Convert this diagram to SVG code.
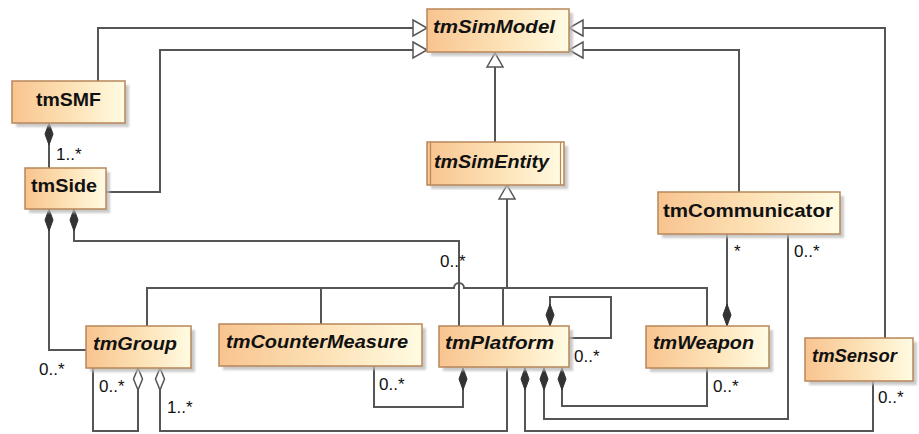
<svg xmlns="http://www.w3.org/2000/svg" width="919" height="434" viewBox="0 0 919 434">
  <style>
    .box { fill: url(#nodeFill); stroke: #b8865a; stroke-width: 1.5; }
    .shadow { fill: #b9b9b9; opacity: 0.75; }
    .name { font-family: "Liberation Sans", Arial, sans-serif; font-size: 18px; font-weight: bold; fill: #111; }
    .it { font-style: italic; }
    .conn { fill: none; stroke: #555; stroke-width: 2; }
    .mult { font-family: "Liberation Sans", Arial, sans-serif; font-size: 17px; fill: #111; }
  </style>
  <defs>
    <linearGradient id="nodeFill" x1="0" y1="0" x2="1" y2="0">
      <stop offset="0" stop-color="#f8c48f"/>
      <stop offset="0.55" stop-color="#fde3b8"/>
      <stop offset="1" stop-color="#fffbe2"/>
    </linearGradient>
    <filter id="soft" x="-10%" y="-10%" width="120%" height="130%">
      <feGaussianBlur stdDeviation="1.2"/>
    </filter>
    <!-- generalization: hollow triangle -->
    <marker id="gen" markerUnits="userSpaceOnUse" markerWidth="20" markerHeight="20" viewBox="-2 -10 18 20" refX="14" refY="0" orient="auto">
      <path d="M0,-8 L14,0 L0,8 Z" fill="#fff" stroke="#555" stroke-width="1.5"/>
    </marker>
    <!-- composition: filled diamond -->
    <marker id="comp" markerUnits="userSpaceOnUse" markerWidth="26" markerHeight="12" viewBox="-1 -6 24 12" refX="0" refY="0" orient="auto">
      <path d="M0,0 L11,-4 L22,0 L11,4 Z" fill="#333" stroke="#333" stroke-width="1"/>
    </marker>
    <!-- aggregation: hollow diamond -->
    <marker id="agg" markerUnits="userSpaceOnUse" markerWidth="26" markerHeight="12" viewBox="-1 -6 24 12" refX="0" refY="0" orient="auto">
      <path d="M0,0 L11,-4.5 L22,0 L11,4.5 Z" fill="#fff" stroke="#555" stroke-width="1.5"/>
    </marker>
  </defs>

  <rect width="919" height="434" fill="#fff"/>

  <!-- connectors -->
  <g id="connectors">
    <!-- generalizations to tmSimModel -->
    <path class="conn" d="M98,81 V28 H427" marker-end="url(#gen)"/>
    <path class="conn" d="M106,192 H160 V50 H427" marker-end="url(#gen)"/>
    <path class="conn" d="M495,142 V53" marker-end="url(#gen)"/>
    <path class="conn" d="M739,192 V50 H569" marker-end="url(#gen)"/>
    <path class="conn" d="M885,338 V28 H569" marker-end="url(#gen)"/>
    <!-- generalization tree to tmSimEntity -->
    <path class="conn" d="M507,288 V185" marker-end="url(#gen)"/>
    <path class="conn" d="M147,326 V288 H454 A5,5 0 0 1 464,288 H707 V326"/>
    <path class="conn" d="M321,324 V288"/>
    <path class="conn" d="M503,326 V288"/>

    <!-- compositions and aggregations -->
    <path class="conn" d="M49,123 V168" marker-start="url(#comp)"/>
    <path class="conn" d="M49,209 V350 H86" marker-start="url(#comp)"/>
    <path class="conn" d="M74,209 V241 H459 V326" marker-start="url(#comp)"/>
    <path class="conn" d="M138,368 V431 H93 V368" marker-start="url(#agg)"/>
    <path class="conn" d="M160,368 V431 H507 V368" marker-start="url(#agg)"/>
    <path class="conn" d="M463,368 V407 H374 V366" marker-start="url(#comp)"/>
    <path class="conn" d="M550,326 V297 H611 V338 H569" marker-start="url(#comp)"/>
    <path class="conn" d="M525,368 V431 H873 V381" marker-start="url(#comp)"/>
    <path class="conn" d="M544,368 V419 H788 V234" marker-start="url(#comp)"/>
    <path class="conn" d="M562,368 V406 H707 V368" marker-start="url(#comp)"/>
    <path class="conn" d="M727,326 V234" marker-start="url(#comp)"/>

    <!-- multiplicities -->
    <text class="mult" x="56" y="160">1..*</text>
    <text class="mult" x="39" y="375">0..*</text>
    <text class="mult" x="440" y="267">0..*</text>
    <text class="mult" x="99" y="392">0..*</text>
    <text class="mult" x="167" y="413">1..*</text>
    <text class="mult" x="379" y="390">0..*</text>
    <text class="mult" x="574" y="362">0..*</text>
    <text class="mult" x="734" y="257">*</text>
    <text class="mult" x="794" y="257">0..*</text>
    <text class="mult" x="713" y="392">0..*</text>
    <text class="mult" x="878" y="403">0..*</text>
  </g>

  <!-- nodes -->
  <g id="tmSimModel">
    <rect class="shadow" x="431" y="13" width="142" height="43" filter="url(#soft)"/>
    <rect class="box" x="427" y="9" width="142" height="43"/>
    <text class="name it" x="433" y="33" textLength="122" lengthAdjust="spacingAndGlyphs">tmSimModel</text>
  </g>

  <g id="tmSMF">
    <rect class="shadow" x="16" y="85" width="113" height="42" filter="url(#soft)"/>
    <rect class="box" x="12" y="81" width="113" height="42"/>
    <text class="name" x="36" y="106" textLength="65" lengthAdjust="spacingAndGlyphs">tmSMF</text>
  </g>

  <g id="tmSide">
    <rect class="shadow" x="29" y="172" width="81" height="41" filter="url(#soft)"/>
    <rect class="box" x="25" y="168" width="81" height="41"/>
    <text class="name" x="31" y="192" textLength="66" lengthAdjust="spacingAndGlyphs">tmSide</text>
  </g>

  <g id="tmSimEntity">
    <rect class="shadow" x="431" y="146" width="137" height="43" filter="url(#soft)"/>
    <rect class="box" x="427" y="142" width="137" height="43"/>
    <line x1="430.5" y1="142" x2="430.5" y2="185" stroke="#b8865a" stroke-width="1.2"/>
    <line x1="560.5" y1="142" x2="560.5" y2="185" stroke="#b8865a" stroke-width="1.2"/>
    <text class="name it" x="434" y="168" textLength="115" lengthAdjust="spacingAndGlyphs">tmSimEntity</text>
  </g>

  <g id="tmCommunicator">
    <rect class="shadow" x="662" y="196" width="182" height="42" filter="url(#soft)"/>
    <rect class="box" x="658" y="192" width="182" height="42"/>
    <text class="name" x="663" y="217" textLength="170" lengthAdjust="spacingAndGlyphs">tmCommunicator</text>
  </g>

  <g id="tmGroup">
    <rect class="shadow" x="90" y="330" width="105" height="42" filter="url(#soft)"/>
    <rect class="box" x="86" y="326" width="105" height="42"/>
    <text class="name it" x="93" y="350" textLength="84" lengthAdjust="spacingAndGlyphs">tmGroup</text>
  </g>

  <g id="tmCounterMeasure">
    <rect class="shadow" x="223" y="328" width="203" height="42" filter="url(#soft)"/>
    <rect class="box" x="219" y="324" width="203" height="42"/>
    <text class="name it" x="226" y="348" textLength="182" lengthAdjust="spacingAndGlyphs">tmCounterMeasure</text>
  </g>

  <g id="tmPlatform">
    <rect class="shadow" x="443" y="330" width="130" height="41" filter="url(#soft)"/>
    <rect class="box" x="439" y="326" width="130" height="41"/>
    <text class="name it" x="445" y="349" textLength="109" lengthAdjust="spacingAndGlyphs">tmPlatform</text>
  </g>

  <g id="tmWeapon">
    <rect class="shadow" x="650" y="330" width="123" height="42" filter="url(#soft)"/>
    <rect class="box" x="646" y="326" width="123" height="42"/>
    <text class="name it" x="653" y="349" textLength="101" lengthAdjust="spacingAndGlyphs">tmWeapon</text>
  </g>

  <g id="tmSensor">
    <rect class="shadow" x="809" y="342" width="108" height="43" filter="url(#soft)"/>
    <rect class="box" x="805" y="338" width="108" height="43"/>
    <text class="name it" x="812" y="362" textLength="85" lengthAdjust="spacingAndGlyphs">tmSensor</text>
  </g>
</svg>
